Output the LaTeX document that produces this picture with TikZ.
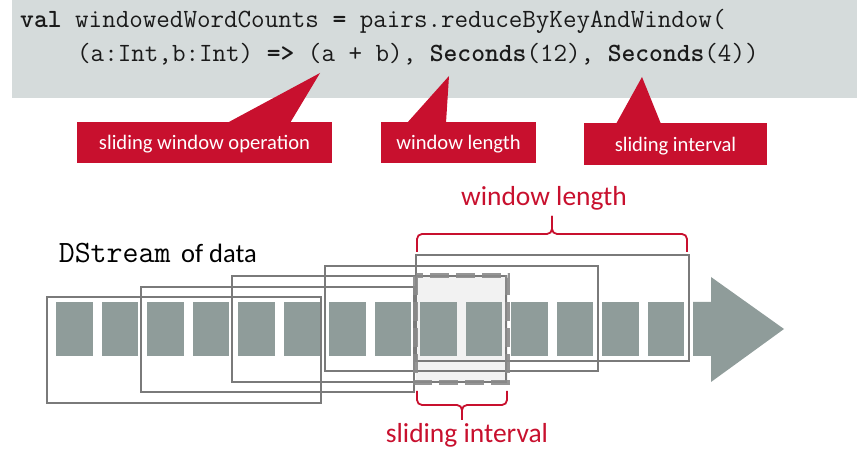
\documentclass[tikz,border=0pt]{standalone}
\usepackage{fontspec}
\setmainfont{Carlito}
\definecolor{codegray}{HTML}{D5DBDB}
\definecolor{redc}{HTML}{C8102E}
\definecolor{blockc}{HTML}{8F9C9A}
\definecolor{wincol}{HTML}{7A7A7A}
\definecolor{dashfill}{HTML}{F2F2F2}
\definecolor{dashc}{HTML}{8A8A8A}
\definecolor{codetext}{HTML}{1A1A1A}
\begin{document}
\begin{tikzpicture}[x=1pt,y=-1pt,
  callout/.style={fill=redc, text=white, font=\fontsize{20.6}{24}\selectfont, inner sep=0pt, text height=15pt, text depth=0pt, align=center},
  block/.style={fill=blockc},
  win/.style={draw=wincol, line width=1.2pt},
  brace/.style={draw=redc, line width=1.8pt, rounded corners=5pt},
  redlabel/.style={text=redc, font=\fontsize{27.5}{32}\selectfont, inner sep=0pt, anchor=base},
  code/.style={font=\ttfamily\fontsize{26.3}{30}\selectfont, inner sep=0pt, anchor=base west, text=codetext}]
\useasboundingbox (0,0) rectangle (863,454);
% code panel
\fill[codegray] (12,0) rectangle (857,98);
\node[code] (c1) at (20,28) {\textbf{val} windowedWordCounts \textbf{=} pairs.reduceByKeyAndWindow(};
\node[code] (c2) at (77,62) {(a:Int,b:Int) \textbf{=>} (a + b), \textbf{Seconds}(12), \textbf{Seconds}(4))};
% callouts
\coordinate (p1) at (320,73);
\coordinate (p2) at (449,76);
\coordinate (p3) at (642,77);
\fill[redc] (227,123) -- (p1) -- (290,123) -- cycle;
\fill[redc] (407,123) -- (p2) -- (446,123) -- cycle;
\fill[redc] (616,124) -- (p3) -- (661,124) -- cycle;
\node[callout, minimum width=255pt, minimum height=41pt] (b1) at (204.5,142.5) {sliding window operation};
\node[callout, minimum width=155pt, minimum height=41pt] (b2) at (458.5,142.5) {window length};
\node[callout, minimum width=183pt, minimum height=42pt] (b3) at (675.5,144) {sliding interval};
% stream label
\node[anchor=base west, inner sep=0pt, font=\ttfamily\fontsize{31}{34}\selectfont] (ds) at (58.6,263) {DStream};
\node[anchor=base west, inner sep=0pt, font=\fontsize{26.5}{30}\selectfont] (od) at (181,263) {of data};
% sliding interval highlight fill
\fill[dashfill] (415.5,276) rectangle (507.5,382.5);
% data blocks
\foreach \i in {0,...,13} \fill[block] ({56+45.5*\i},302) rectangle ++(36.5,54);
% arrow head
\fill[block] (693,302) -- (711,302) -- (711,277) -- (784,329) -- (711,382) -- (711,356) -- (693,356) -- cycle;
% windows
\draw[win] (47,297) rectangle (321,403);
\draw[win] (141,287) rectangle (414,392);
\draw[win] (232,276) rectangle (506,382);
\draw[win] (325,266) rectangle (598,371);
\draw[win] (416,255) rectangle (689,361);
% dashed interval outline
\draw[dashc, line width=5pt, dash pattern=on 19pt off 7pt, opacity=0.9] (415.5,276) rectangle (507.5,382.5);
% braces
\draw[brace] (417,252) -- (417,234) -- (552,234) -- (552,216);
\draw[brace] (687,252) -- (687,234) -- (552,234) -- (552,216);
\draw[brace] (417,391) -- (417,405) -- (462,405) -- (462,420);
\draw[brace] (507,391) -- (507,405) -- (462,405) -- (462,420);
\node[redlabel] (wl) at (544,206) {window length};
\node[redlabel] (si) at (467,443) {sliding interval};
\end{tikzpicture}
\end{document}
